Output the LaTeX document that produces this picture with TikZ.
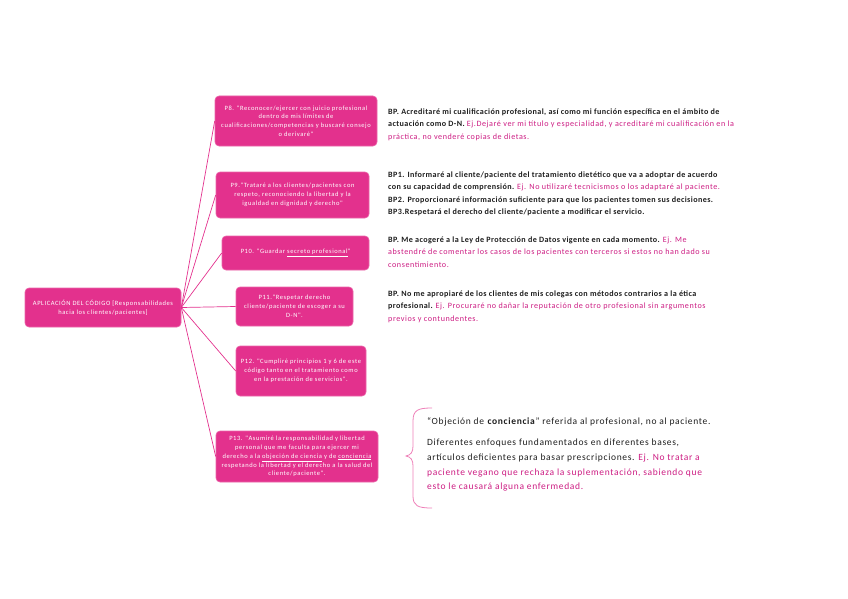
\documentclass[tikz,border=0pt]{standalone}
\usepackage{fontspec}
\setmainfont{Carlito}
\newfontfamily\boxfont[LetterSpace=9]{Carlito}
\newfontfamily\notefont[LetterSpace=5]{Carlito}
\newfontfamily\widefont[LetterSpace=7]{Carlito}
\usetikzlibrary{positioning}

\definecolor{mapink}{RGB}{227,49,141}
\definecolor{ejpink}{RGB}{204,28,130}
\definecolor{bracepink}{RGB}{238,128,184}
\definecolor{notetext}{RGB}{30,30,30}

\newcommand{\ej}[1]{{\widefont\mdseries\color{ejpink}#1}}

\tikzset{
  topic/.style={draw=mapink!75!white, line width=0.6pt, fill=mapink,
    rounded corners=4pt, text=white, align=center, inner sep=1pt,
    font=\boxfont\fontsize{6.5}{8.8}\selectfont},
  note/.style={anchor=north west, align=left, inner sep=0pt, text=notetext,
    font=\notefont\fontsize{8.1}{12.4}\selectfont\bfseries},
  link/.style={draw=mapink, line width=0.7pt},
}

\begin{document}
\begin{tikzpicture}[x=1pt,y=-1pt]
\useasboundingbox (0,0) rectangle (848,599);

% Root
\node[topic, minimum width=156pt, minimum height=39pt] (root) at (103,307.5)
  {APLICACIÓN DEL CÓDIGO [Responsabilidades\\hacia los clientes/pacientes]};

% Principles
\node[topic, minimum width=162pt, minimum height=50pt] (p8) at (296,121)
  {P8. "Reconocer/ejercer con juicio profesional\\dentro de mis límites de\\cualificaciones/competencias y buscaré consejo\\o derivaré"};
\node[topic, minimum width=153pt, minimum height=46pt] (p9) at (292.5,195)
  {P9."Trataré a los clientes/pacientes con\\respeto, reconociendo la libertad y la\\igualdad en dignidad y derecho"};
\node[topic, minimum width=147pt, minimum height=34pt] (p10) at (295.5,253)
  {P10. "Guardar \underline{secreto profesional}"};
\node[topic, minimum width=117pt, minimum height=39pt] (p11) at (294.5,306.5)
  {P11."Respetar derecho\\cliente/paciente de escoger a su\\D-N".};
\node[topic, minimum width=130pt, minimum height=50pt] (p12) at (301,371)
  {P12. "Cumpliré principios 1 y 6 de este\\código tanto en el tratamiento como\\en la prestación de servicios".};
\node[topic, minimum width=162pt, minimum height=51pt] (p13) at (297,456.5)
  {P13. "Asumiré la responsabilidad y libertad\\personal que me faculta para ejercer mi\\derecho a la \underline{objeción de ciencia} y de \underline{conciencia}\\respetando la libertad y el derecho a la salud del\\cliente/paciente".};

% Links
\foreach \p in {p8,p9,p10,p11,p12,p13}
  \draw[link] (root.east) -- (\p.west);

% Notes
\node[note] (bp8) at (388,108.5)
  {BP. Acreditaré mi cualificación profesional, así como mi función específica en el ámbito de\\
   actuación como D-N. \ej{Ej.Dejaré ver mi título y especialidad, y acreditaré mi cualificación en la}\\
   \ej{práctica, no venderé copias de dietas.}};
\node[note] (bp9) at (388,171.5)
  {BP1. Informaré al cliente/paciente del tratamiento dietético que va a adoptar de acuerdo\\
   con su capacidad de comprensión. \ej{Ej. No utilizaré tecnicismos o los adaptaré al paciente.}\\
   BP2. Proporcionaré información suficiente para que los pacientes tomen sus decisiones.\\
   BP3.Respetará el derecho del cliente/paciente a modificar el servicio.};
\node[note] (bp10) at (388,236.5)
  {BP. Me acogeré a la Ley de Protección de Datos vigente en cada momento. \ej{Ej. Me}\\
   \ej{abstendré de comentar los casos de los pacientes con terceros si estos no han dado su}\\
   \ej{consentimiento.}};
\node[note] (bp11) at (388,290.5)
  {BP. No me apropiaré de los clientes de mis colegas con métodos contrarios a la ética\\
   profesional. \ej{Ej. Procuraré no dañar la reputación de otro profesional sin argumentos}\\
   \ej{previos y contundentes.}};

% Brace
\draw[bracepink, line width=0.8pt] (432,408) .. controls (418,408) and (413,410) .. (413,421)
  -- (413,446) .. controls (413,452) and (411,455) .. (406,456)
  .. controls (411,457) and (413,460) .. (413,466)
  -- (413,496) .. controls (413,506) and (418,508) .. (432,508);

% Objection notes
\node[anchor=north west, align=left, inner sep=0pt, text=notetext,
  font=\widefont\fontsize{9.5}{14.7}\selectfont] (obj) at (427,417)
  {“Objeción de \textbf{conciencia}” referida al profesional, no al paciente.};
\node[anchor=north west, align=left, inner sep=0pt, text=notetext,
  font=\widefont\fontsize{9.5}{14.7}\selectfont] (diff) at (427,439)
  {Diferentes enfoques fundamentados en diferentes bases,\\
   artículos deficientes para basar prescripciones. \ej{Ej. No tratar a}\\
   \ej{paciente vegano que rechaza la suplementación, sabiendo que}\\
   \ej{esto le causará alguna enfermedad.}};

\end{tikzpicture}
\end{document}
